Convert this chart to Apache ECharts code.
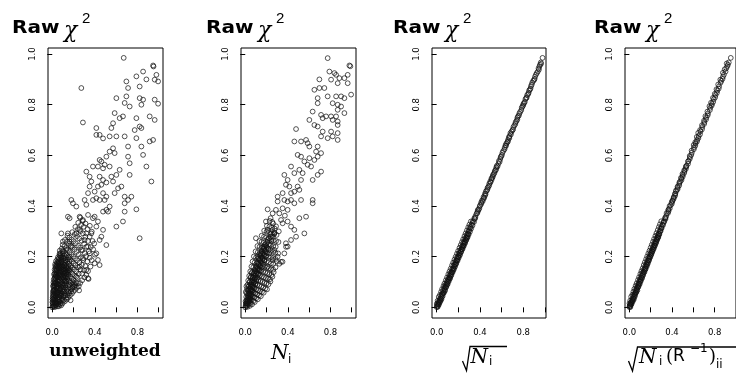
<!DOCTYPE html>
<html>
<head>
<meta charset="utf-8">
<script src="https://cdn.jsdelivr.net/npm/echarts@6/dist/echarts.min.js"></script>
<style>html,body{margin:0;padding:0;background:#fff;}#c{width:736px;height:373px;}</style>
</head>
<body>
<div id="c"></div>
<script>
// ---------------- data ----------------
var yTicks = [0, 0.2, 0.4, 0.6, 0.8, 1.0];
var xTicks = [0, 0.2, 0.4, 0.6, 0.8, 1.0];
var xLabels = [0, 0.4, 0.8];

// panel 1: raw chi2 vs unweighted
var unweightedPts = [
[0.671,0.985],[0.273,0.866],[0.288,0.730],[0.947,0.955],[0.951,0.951],[0.853,0.931],[0.790,0.912],[0.884,0.900],[0.978,0.918],[0.994,0.892],[0.962,0.899],[0.696,0.892],[0.712,0.866],[0.821,0.872],[0.602,0.826],[0.696,0.833],[0.821,0.826],[0.853,0.820],[0.962,0.820],[0.994,0.804],[0.680,0.807],[0.727,0.793],[0.837,0.800],[0.586,0.767],[0.633,0.747],[0.664,0.754],[0.571,0.727],[0.555,0.708],[0.790,0.747],[0.915,0.754],[0.962,0.740],[0.821,0.714],[0.837,0.708],[0.774,0.700],[0.414,0.708],[0.414,0.681],[0.445,0.681],[0.539,0.675],[0.602,0.675],[0.477,0.667],[0.680,0.675],[0.712,0.635],[0.790,0.668],[0.837,0.635],[0.915,0.655],[0.947,0.661],[0.853,0.602],[0.712,0.595],[0.727,0.569],[0.884,0.556],[0.727,0.523],[0.931,0.497],
[0.445,0.582],[0.461,0.576],[0.508,0.595],[0.492,0.563],[0.539,0.615],[0.571,0.628],[0.586,0.609],[0.382,0.556],[0.429,0.556],[0.477,0.549],[0.539,0.556],[0.633,0.543],[0.602,0.523],[0.320,0.536],[0.351,0.516],[0.367,0.497],[0.445,0.516],[0.477,0.503],[0.555,0.516],[0.571,0.497],[0.618,0.470],[0.586,0.451],[0.680,0.437],[0.649,0.477],[0.712,0.424],[0.743,0.437],[0.680,0.411],[0.790,0.387],[0.680,0.378],[0.664,0.339],[0.602,0.319],[0.821,0.273],
[0.304,0.424],[0.320,0.405],[0.382,0.424],[0.414,0.431],[0.445,0.424],[0.477,0.451],[0.508,0.437],[0.492,0.424],[0.539,0.398],[0.508,0.385],[0.477,0.378],[0.524,0.378],[0.179,0.424],[0.194,0.411],[0.226,0.398],[0.336,0.451],[0.351,0.477],[0.398,0.457],[0.429,0.477],[0.461,0.484],[0.508,0.493],
[0.147,0.358],[0.163,0.352],[0.257,0.358],[0.288,0.345],[0.336,0.365],[0.382,0.352],[0.398,0.358],[0.429,0.339],[0.414,0.319],[0.477,0.306],[0.508,0.246],[0.461,0.279],[0.445,0.266],[0.414,0.213],[0.429,0.187],[0.445,0.167],[0.398,0.174],[0.351,0.213],[0.336,0.240],[0.304,0.266],[0.257,0.306],[0.226,0.292],[0.320,0.292],[0.367,0.292],[0.273,0.227],[0.288,0.194],[0.320,0.148],[0.336,0.115],[0.257,0.161],[0.226,0.121],[0.241,0.095],[0.194,0.082],[0.147,0.292],[0.085,0.292],[0.100,0.260],[0.163,0.260],[0.179,0.240],[0.132,0.227],[0.069,0.213],[0.053,0.174],[0.163,0.200],
[0.000,0.000],[0.012,0.003],[0.025,0.001],[0.005,0.012],[0.018,0.014],[0.034,0.009],[0.046,0.004],[0.058,0.011],[0.028,0.022],[0.011,0.027],[0.041,0.025],[0.053,0.031],[0.067,0.022],[0.079,0.017],[0.022,0.038],[0.036,0.043],[0.049,0.047],[0.064,0.039],[0.076,0.045],[0.091,0.033],[0.103,0.041],[0.008,0.052],[0.019,0.061],[0.031,0.056],[0.044,0.066],[0.058,0.059],[0.071,0.068],[0.086,0.057],[0.098,0.064],[0.114,0.055],[0.127,0.047],[0.015,0.078],[0.027,0.084],[0.039,0.091],[0.052,0.079],[0.066,0.088],[0.081,0.081],[0.094,0.092],[0.109,0.078],[0.121,0.087],[0.138,0.069],[0.152,0.061],[0.024,0.103],[0.036,0.112],[0.048,0.106],[0.061,0.117],[0.074,0.104],[0.088,0.114],[0.101,0.108],[0.116,0.101],[0.131,0.094],[0.145,0.086],[0.163,0.079],[0.178,0.072],[0.031,0.128],[0.043,0.137],[0.057,0.131],[0.069,0.142],[0.083,0.129],[0.097,0.139],[0.112,0.126],[0.126,0.118],[0.141,0.112],[0.157,0.104],[0.172,0.097],[0.191,0.089],[0.208,0.081],[0.037,0.151],[0.051,0.158],[0.064,0.164],[0.078,0.153],[0.092,0.161],[0.106,0.149],[0.119,0.143],[0.134,0.136],[0.149,0.129],[0.166,0.122],[0.183,0.114],[0.199,0.107],[0.222,0.098],[0.046,0.177],[0.059,0.184],[0.073,0.176],[0.087,0.187],[0.101,0.172],[0.115,0.168],[0.129,0.161],[0.144,0.154],[0.159,0.147],[0.176,0.139],[0.192,0.131],[0.213,0.124],[0.236,0.117],[0.054,0.198],[0.068,0.206],[0.082,0.199],[0.096,0.211],[0.111,0.193],[0.124,0.186],[0.139,0.179],[0.154,0.171],[0.171,0.163],[0.187,0.157],[0.204,0.149],[0.226,0.142],[0.249,0.133],[0.071,0.224],[0.089,0.232],[0.105,0.221],[0.121,0.214],[0.136,0.206],[0.151,0.197],[0.167,0.189],[0.184,0.181],[0.201,0.173],[0.219,0.166],[0.241,0.158],[0.263,0.149],[0.098,0.247],[0.114,0.241],[0.131,0.234],[0.147,0.226],[0.162,0.218],[0.179,0.209],[0.196,0.201],[0.214,0.193],[0.233,0.186],[0.255,0.177],[0.278,0.168],[0.119,0.266],[0.138,0.259],[0.156,0.251],[0.173,0.243],[0.191,0.236],[0.209,0.228],[0.228,0.219],[0.248,0.209],[0.269,0.198],[0.291,0.187],[0.143,0.283],[0.161,0.276],[0.182,0.268],[0.201,0.261],[0.221,0.253],[0.243,0.244],[0.262,0.236],[0.284,0.226],[0.306,0.214],[0.188,0.297],[0.211,0.289],[0.233,0.281],[0.254,0.272],[0.276,0.263],[0.299,0.251],[0.321,0.239],[0.217,0.318],[0.241,0.309],[0.266,0.301],[0.288,0.292],[0.311,0.279],[0.244,0.334],[0.271,0.326],[0.296,0.318],
[0.002,0.021],[0.004,0.040],[0.010,0.066],[0.017,0.093],[0.026,0.121],[0.033,0.145],[0.041,0.171],[0.035,0.182],[0.029,0.163],[0.014,0.109],[0.007,0.084],[0.062,0.004],[0.084,0.008],[0.097,0.016],[0.118,0.024],[0.136,0.031],[0.149,0.038],[0.166,0.047],[0.184,0.054],[0.197,0.062],[0.214,0.069],[0.231,0.077],[0.249,0.084],[0.262,0.096],[0.281,0.107],[0.302,0.118],[0.319,0.128],[0.341,0.112],[0.172,0.028],[0.252,0.067],[0.217,0.087],[0.281,0.133],[0.298,0.146],[0.311,0.163],[0.329,0.181],[0.352,0.196],[0.371,0.186],[0.359,0.161],[0.336,0.143],[0.318,0.202],[0.343,0.221],[0.362,0.238],[0.384,0.229],[0.401,0.208],[0.378,0.262],[0.394,0.252],[0.336,0.262],[0.351,0.279],[0.371,0.299],[0.331,0.309],[0.353,0.322],[0.312,0.331],[0.286,0.341],[0.263,0.354],
[0.006,0.005],[0.015,0.008],[0.028,0.006],[0.039,0.014],[0.021,0.019],[0.009,0.033],[0.032,0.031],[0.045,0.036],[0.057,0.024],[0.070,0.032],[0.016,0.048],[0.029,0.045],[0.040,0.054],[0.055,0.051],[0.068,0.049],[0.083,0.046],[0.012,0.065],[0.025,0.071],[0.037,0.076],[0.049,0.073],[0.063,0.075],[0.077,0.071],[0.092,0.069],[0.105,0.061],[0.020,0.088],[0.032,0.097],[0.045,0.094],[0.058,0.101],[0.071,0.095],[0.085,0.099],[0.099,0.086],[0.113,0.091],[0.126,0.079],[0.028,0.116],[0.040,0.123],[0.054,0.119],[0.066,0.129],[0.079,0.118],[0.093,0.125],[0.107,0.118],[0.121,0.106],[0.135,0.101],[0.035,0.139],[0.048,0.146],[0.061,0.152],[0.075,0.139],[0.089,0.148],[0.103,0.135],[0.117,0.133],[0.131,0.123],[0.146,0.119],[0.043,0.163],[0.056,0.171],[0.070,0.167],[0.084,0.175],[0.098,0.161],[0.112,0.157],[0.126,0.149],[0.141,0.141],[0.155,0.136],[0.062,0.193],[0.076,0.190],[0.091,0.198],[0.107,0.183],[0.121,0.176],[0.136,0.167],[0.151,0.159],[0.168,0.151],[0.080,0.213],[0.095,0.222],[0.113,0.205],[0.128,0.198],[0.145,0.189],[0.161,0.181],[0.017,0.130],[0.022,0.149],[0.027,0.170],[0.003,0.031],[0.006,0.059],[0.107,0.028],[0.128,0.037],[0.143,0.049],[0.159,0.056],[0.176,0.063],[0.191,0.076],[0.205,0.094],[0.189,0.101],
[0.004,0.018],[0.013,0.036],[0.024,0.029],[0.035,0.020],[0.047,0.015],[0.019,0.055],[0.033,0.063],[0.047,0.058],[0.061,0.041],[0.074,0.057],[0.088,0.052],[0.013,0.087],[0.026,0.095],[0.040,0.083],[0.053,0.090],[0.067,0.108],[0.080,0.091],[0.095,0.078],[0.111,0.069],[0.022,0.134],[0.034,0.126],[0.046,0.118],[0.060,0.138],[0.073,0.126],[0.086,0.140],[0.099,0.121],[0.114,0.113],[0.128,0.105],[0.031,0.157],[0.042,0.149],[0.055,0.163],[0.068,0.156],[0.082,0.163],[0.096,0.150],[0.109,0.144],[0.123,0.137],[0.138,0.129],[0.048,0.189],[0.061,0.179],[0.075,0.203],[0.089,0.183],[0.103,0.195],[0.118,0.166],[0.133,0.156],[0.150,0.145],[0.008,0.046],[0.016,0.070],[0.011,0.098],[0.020,0.115],[0.071,0.011],[0.089,0.027],[0.110,0.047],[0.132,0.061],[0.148,0.073],[0.161,0.089]
];

// panel 2: raw chi2 vs N_i
var niPts = [
[0.774,0.984],[0.790,0.931],[0.837,0.925],[0.853,0.918],[0.978,0.955],[0.987,0.952],[0.962,0.918],[0.884,0.905],[0.931,0.905],[0.806,0.899],[0.696,0.900],[0.868,0.885],[0.962,0.885],[0.649,0.859],[0.696,0.866],[0.743,0.866],[0.680,0.826],[0.680,0.806],[0.774,0.833],[0.853,0.833],[0.900,0.833],[0.931,0.826],[0.994,0.840],[0.821,0.806],[0.868,0.800],[0.900,0.793],[0.868,0.780],[0.931,0.767],[0.633,0.773],[0.712,0.760],[0.727,0.747],[0.759,0.754],[0.806,0.754],[0.853,0.754],[0.821,0.740],[0.868,0.734],[0.868,0.720],[0.602,0.740],[0.649,0.720],[0.680,0.714],[0.727,0.694],[0.806,0.694],[0.821,0.675],[0.868,0.688],[0.868,0.661],[0.774,0.668],[0.712,0.675],
[0.477,0.704],[0.461,0.655],[0.524,0.655],[0.586,0.648],[0.602,0.635],[0.571,0.661],[0.680,0.635],[0.665,0.615],[0.680,0.595],[0.649,0.582],[0.602,0.589],[0.712,0.609],[0.492,0.602],[0.524,0.595],[0.555,0.576],[0.586,0.563],[0.618,0.556],[0.633,0.503],[0.712,0.536],[0.680,0.523],[0.430,0.556],[0.461,0.530],[0.508,0.543],[0.539,0.530],[0.524,0.503],[0.492,0.477],[0.508,0.464],[0.461,0.457],[0.367,0.523],[0.398,0.503],[0.382,0.484],[0.414,0.477],[0.430,0.451],[0.351,0.451],[0.304,0.437],[0.304,0.418],[0.367,0.424],[0.398,0.418],[0.430,0.424],[0.461,0.411],[0.524,0.424],[0.633,0.424],[0.633,0.411],[0.571,0.358],[0.508,0.352],[0.555,0.292],
[0.351,0.391],[0.398,0.385],[0.210,0.387],[0.257,0.371],[0.288,0.385],[0.320,0.371],[0.336,0.345],[0.398,0.339],[0.430,0.319],[0.461,0.306],[0.477,0.279],[0.430,0.266],[0.382,0.253],[0.336,0.180],[0.367,0.213],[0.398,0.240],[0.273,0.292],[0.241,0.279],[0.210,0.266],[0.194,0.339],[0.210,0.306],[0.100,0.273],[0.179,0.240],[0.226,0.213],[0.257,0.187],[0.273,0.227],[0.304,0.200],[0.179,0.187],[0.210,0.161],[0.147,0.213],[0.116,0.200],[0.350,0.180],[0.383,0.239],[0.320,0.172],[0.289,0.320],[0.315,0.300],[0.262,0.331],[0.238,0.352],[0.351,0.332],[0.372,0.362],
[0.000,0.000],[0.010,0.004],[0.021,0.002],[0.006,0.013],[0.017,0.016],[0.031,0.011],[0.043,0.006],[0.013,0.027],[0.026,0.024],[0.039,0.021],[0.052,0.017],[0.064,0.012],[0.009,0.041],[0.021,0.038],[0.034,0.036],[0.047,0.033],[0.061,0.029],[0.076,0.025],[0.089,0.021],[0.012,0.056],[0.026,0.053],[0.041,0.051],[0.056,0.047],[0.071,0.043],[0.087,0.039],[0.103,0.036],[0.118,0.032],[0.017,0.072],[0.032,0.069],[0.048,0.066],[0.063,0.062],[0.079,0.058],[0.095,0.055],[0.112,0.051],[0.129,0.047],[0.146,0.044],[0.021,0.089],[0.037,0.085],[0.054,0.082],[0.071,0.079],[0.088,0.075],[0.104,0.071],[0.121,0.068],[0.139,0.064],[0.157,0.061],[0.173,0.058],[0.028,0.106],[0.045,0.103],[0.062,0.099],[0.079,0.096],[0.097,0.092],[0.114,0.089],[0.132,0.085],[0.151,0.082],[0.169,0.078],[0.188,0.074],[0.204,0.071],[0.037,0.124],[0.054,0.121],[0.072,0.117],[0.089,0.114],[0.107,0.111],[0.125,0.107],[0.143,0.104],[0.162,0.101],[0.181,0.097],[0.199,0.094],[0.218,0.091],[0.236,0.102],[0.047,0.142],[0.065,0.139],[0.083,0.136],[0.101,0.132],[0.119,0.129],[0.138,0.126],[0.156,0.122],[0.175,0.119],[0.194,0.116],[0.213,0.113],[0.232,0.111],[0.255,0.121],[0.058,0.161],[0.076,0.158],[0.095,0.154],[0.113,0.151],[0.132,0.148],[0.151,0.144],[0.169,0.141],[0.188,0.138],[0.207,0.135],[0.226,0.131],[0.246,0.128],[0.267,0.139],[0.069,0.181],[0.088,0.177],[0.107,0.174],[0.126,0.171],[0.145,0.167],[0.164,0.164],[0.183,0.161],[0.202,0.157],[0.221,0.154],[0.241,0.151],[0.262,0.149],[0.284,0.158],[0.081,0.201],[0.101,0.197],[0.121,0.194],[0.141,0.191],[0.161,0.188],[0.181,0.184],[0.201,0.181],[0.221,0.178],[0.242,0.174],[0.263,0.171],[0.297,0.181],[0.097,0.221],[0.118,0.218],[0.138,0.215],[0.158,0.212],[0.179,0.208],[0.199,0.205],[0.219,0.201],[0.241,0.198],[0.262,0.195],[0.284,0.191],[0.114,0.242],[0.135,0.239],[0.156,0.236],[0.177,0.233],[0.198,0.229],[0.219,0.226],[0.241,0.223],[0.262,0.219],[0.283,0.216],[0.309,0.213],[0.133,0.262],[0.154,0.259],[0.176,0.256],[0.197,0.252],[0.219,0.249],[0.241,0.246],[0.263,0.242],[0.286,0.239],[0.154,0.283],[0.176,0.279],[0.198,0.276],[0.221,0.272],[0.243,0.269],[0.266,0.265],[0.289,0.262],[0.312,0.258],[0.178,0.303],[0.201,0.299],[0.224,0.296],[0.247,0.292],[0.271,0.289],[0.294,0.286],[0.203,0.322],[0.227,0.319],[0.251,0.315],[0.276,0.311],[0.229,0.341],[0.254,0.337],[0.003,0.024],[0.005,0.061],[0.011,0.083],
[0.005,0.007],[0.014,0.009],[0.024,0.014],[0.011,0.020],[0.030,0.028],[0.020,0.031],[0.042,0.027],[0.036,0.044],[0.025,0.047],[0.051,0.040],[0.046,0.057],[0.034,0.061],[0.060,0.053],[0.057,0.070],[0.043,0.076],[0.070,0.066],[0.066,0.084],[0.052,0.090],[0.082,0.079],[0.077,0.098],[0.061,0.105],[0.093,0.091],[0.087,0.112],[0.071,0.120],[0.104,0.104],[0.098,0.126],[0.081,0.134],[0.116,0.117],[0.110,0.140],[0.092,0.148],[0.128,0.131],[0.121,0.154],[0.104,0.163],[0.140,0.145],[0.133,0.168],[0.116,0.178],[0.152,0.158],[0.145,0.183],[0.128,0.193],[0.165,0.172],[0.157,0.197],[0.140,0.208],[0.177,0.186],[0.169,0.212],[0.153,0.223],[0.190,0.201],[0.182,0.227],[0.166,0.238],[0.203,0.215],[0.195,0.243],[0.217,0.231],[0.209,0.258],[0.231,0.247],[0.223,0.273],[0.245,0.262],[0.238,0.289],[0.259,0.279],[0.253,0.305],[0.274,0.296],
[0.008,0.016],[0.019,0.022],[0.028,0.037],[0.040,0.034],[0.037,0.052],[0.051,0.049],[0.048,0.072],[0.062,0.067],[0.058,0.091],[0.074,0.086],[0.069,0.108],[0.086,0.102],[0.081,0.126],[0.097,0.118],[0.092,0.143],[0.110,0.134],[0.105,0.158],[0.123,0.149],[0.118,0.172],[0.136,0.162],[0.131,0.188],[0.148,0.176],[0.144,0.203],[0.161,0.193],[0.157,0.218],[0.174,0.207],[0.171,0.232],[0.188,0.221],[0.185,0.248],[0.202,0.237],[0.024,0.066],[0.031,0.082],[0.040,0.099],[0.050,0.117],[0.059,0.135]
];

// panel 3: raw chi2 vs sqrt(N_i)
var sqrtNiPts = [
[0.000,0.001],[0.004,0.006],[0.008,0.003],[0.005,0.012],[0.012,0.010],[0.014,0.017],[0.018,0.013],[0.020,0.023],[0.025,0.019],[0.027,0.030],[0.032,0.027],[0.033,0.036],[0.039,0.034],[0.042,0.045],[0.046,0.039],[0.047,0.052],[0.054,0.050],[0.056,0.057],[0.061,0.056],[0.061,0.067],[0.068,0.062],[0.071,0.074],[0.075,0.070],[0.076,0.082],[0.083,0.079],[0.085,0.090],[0.090,0.085],[0.091,0.097],[0.098,0.092],[0.100,0.105],[0.105,0.100],[0.106,0.112],[0.112,0.109],[0.115,0.118],[0.120,0.115],[0.120,0.127],[0.127,0.122],[0.130,0.135],[0.135,0.130],[0.137,0.140],[0.142,0.139],[0.143,0.150],[0.149,0.145],[0.152,0.155],[0.157,0.152],[0.157,0.165],[0.164,0.160],[0.167,0.170],[0.172,0.169],[0.172,0.180],[0.179,0.175],[0.182,0.185],[0.186,0.184],[0.187,0.195],[0.194,0.190],[0.197,0.200],[0.201,0.199],[0.202,0.210],[0.209,0.205],[0.212,0.215],[0.216,0.214],[0.217,0.225],[0.224,0.220],[0.227,0.230],[0.231,0.229],[0.232,0.240],[0.239,0.235],[0.242,0.245],[0.247,0.242],[0.247,0.255],[0.254,0.250],[0.257,0.260],[0.262,0.257],[0.263,0.270],[0.269,0.265],[0.272,0.276],[0.277,0.272],[0.278,0.285],[0.285,0.280],[0.287,0.292],[0.292,0.289],[0.296,0.300],
[0.301,0.305],[0.308,0.312],[0.312,0.318],[0.324,0.327],[0.331,0.334],[0.336,0.341],[0.352,0.349],[0.348,0.352],[0.359,0.361],[0.375,0.372],[0.381,0.379],[0.379,0.384],[0.394,0.391],[0.402,0.403],[0.413,0.409],[0.411,0.414],[0.419,0.422],[0.431,0.428],[0.433,0.436],[0.446,0.441],[0.447,0.449],[0.455,0.458],[0.469,0.466],[0.470,0.472],[0.485,0.481],[0.486,0.488],[0.495,0.497],[0.507,0.503],[0.506,0.509],[0.519,0.516],[0.519,0.522],[0.534,0.531],[0.536,0.538],[0.549,0.546],[0.551,0.553],[0.556,0.559],[0.571,0.567],[0.575,0.578],[0.588,0.586],[0.591,0.593],[0.603,0.602],[0.608,0.611],[0.627,0.624],[0.629,0.631],[0.641,0.638],[0.644,0.647],[0.658,0.655],[0.659,0.661],[0.671,0.668],[0.674,0.676],[0.686,0.683],[0.692,0.694],[0.706,0.703],[0.709,0.712],[0.727,0.724],[0.729,0.731],[0.745,0.742],[0.746,0.749],[0.760,0.758],[0.764,0.766],[0.782,0.779],[0.786,0.788],[0.799,0.797],[0.801,0.803],[0.814,0.811],[0.820,0.822],[0.832,0.829],[0.836,0.838],[0.850,0.847],[0.854,0.856],[0.867,0.864],[0.871,0.873],[0.883,0.887],[0.892,0.894],[0.905,0.902],[0.909,0.911],[0.917,0.919],[0.934,0.931],[0.941,0.944],[0.950,0.952],[0.955,0.958],[0.962,0.967],[0.978,0.985],
[0.010,0.002],[0.002,0.015],[0.021,0.011],[0.009,0.026],[0.033,0.022],[0.019,0.041],[0.044,0.031],[0.030,0.049],[0.055,0.044],[0.041,0.061],[0.066,0.057],[0.050,0.072],[0.078,0.066],[0.063,0.084],[0.088,0.080],[0.072,0.094],[0.101,0.091],[0.085,0.107],[0.112,0.103],[0.096,0.118],[0.124,0.114],[0.108,0.131],[0.135,0.126],[0.119,0.142],[0.147,0.138],[0.130,0.153],[0.158,0.149],[0.142,0.166],[0.170,0.161],[0.153,0.177],[0.181,0.172],[0.165,0.189],[0.193,0.184],[0.176,0.200],[0.204,0.196],[0.188,0.212],[0.216,0.207],[0.199,0.223],[0.227,0.219],[0.211,0.235],[0.239,0.230],[0.222,0.246],[0.250,0.242],[0.234,0.258],[0.262,0.253],[0.245,0.269],[0.273,0.265],[0.257,0.281],[0.285,0.276],[0.268,0.292],[0.296,0.288],[0.280,0.304],[0.308,0.299],[0.292,0.316],[0.319,0.311],[0.303,0.327],[0.331,0.323],[0.316,0.339],[0.345,0.337],[0.357,0.354],[0.369,0.371],[0.388,0.386],[0.398,0.399],[0.425,0.419],[0.439,0.432],[0.452,0.447],[0.463,0.461],[0.478,0.476],[0.497,0.493],[0.513,0.511],[0.527,0.526],[0.545,0.541],[0.562,0.556],[0.582,0.575],[0.597,0.597],[0.616,0.618],[0.636,0.640],[0.652,0.651],[0.667,0.672],[0.681,0.688],[0.700,0.699],[0.718,0.718],[0.738,0.736],[0.752,0.754],[0.772,0.772],[0.792,0.793],[0.808,0.807],[0.827,0.826],[0.845,0.842],[0.861,0.860],[0.878,0.879],[0.900,0.898],[0.925,0.925],[0.945,0.939],[0.965,0.962]
];

// panel 4: raw chi2 vs sqrt(N_i (R^-1)_ii)
var sqrtNiRPts = [
[0.000,0.001],[0.003,0.006],[0.008,0.004],[0.006,0.012],[0.011,0.010],[0.013,0.018],[0.017,0.014],[0.020,0.023],[0.023,0.020],[0.026,0.030],[0.031,0.027],[0.032,0.037],[0.037,0.034],[0.040,0.045],[0.045,0.040],[0.046,0.052],[0.051,0.050],[0.054,0.058],[0.058,0.056],[0.059,0.067],[0.065,0.062],[0.068,0.074],[0.072,0.071],[0.073,0.082],[0.079,0.079],[0.082,0.090],[0.086,0.085],[0.087,0.097],[0.093,0.093],[0.096,0.105],[0.101,0.101],[0.101,0.112],[0.107,0.109],[0.110,0.119],[0.115,0.116],[0.115,0.127],[0.121,0.123],[0.124,0.135],[0.129,0.131],[0.131,0.141],[0.136,0.139],[0.137,0.150],[0.143,0.146],[0.146,0.156],[0.151,0.153],[0.151,0.165],[0.157,0.161],[0.160,0.171],[0.165,0.169],[0.166,0.180],[0.171,0.176],[0.174,0.186],[0.179,0.184],[0.180,0.195],[0.186,0.191],[0.189,0.201],[0.193,0.199],[0.194,0.210],[0.200,0.206],[0.203,0.216],[0.208,0.214],[0.208,0.225],[0.215,0.221],[0.218,0.231],[0.222,0.229],[0.223,0.240],[0.229,0.236],[0.232,0.246],[0.237,0.243],[0.237,0.255],[0.244,0.251],[0.247,0.261],[0.251,0.258],[0.252,0.270],[0.258,0.266],[0.261,0.277],[0.266,0.273],[0.266,0.285],[0.273,0.281],[0.276,0.292],[0.280,0.289],[0.285,0.300],
[0.291,0.305],[0.297,0.312],[0.301,0.318],[0.312,0.327],[0.319,0.334],[0.324,0.341],[0.339,0.349],[0.335,0.352],[0.346,0.361],[0.361,0.372],[0.367,0.379],[0.365,0.384],[0.379,0.391],[0.387,0.403],[0.398,0.409],[0.396,0.414],[0.404,0.422],[0.415,0.428],[0.417,0.436],[0.429,0.441],[0.431,0.449],[0.438,0.458],[0.452,0.466],[0.453,0.472],[0.467,0.481],[0.468,0.488],[0.477,0.497],[0.489,0.503],[0.487,0.509],[0.500,0.516],[0.501,0.522],[0.515,0.531],[0.516,0.538],[0.529,0.546],[0.531,0.553],[0.536,0.559],[0.550,0.567],[0.554,0.578],[0.566,0.586],[0.569,0.593],[0.581,0.602],[0.586,0.611],[0.604,0.624],[0.606,0.631],[0.618,0.638],[0.621,0.647],[0.634,0.655],[0.635,0.661],[0.647,0.668],[0.650,0.676],[0.662,0.683],[0.667,0.694],[0.681,0.703],[0.684,0.712],[0.701,0.724],[0.703,0.731],[0.719,0.742],[0.720,0.749],[0.734,0.758],[0.738,0.766],[0.755,0.779],[0.759,0.788],[0.772,0.797],[0.774,0.803],[0.786,0.811],[0.792,0.822],[0.804,0.829],[0.808,0.838],[0.821,0.847],[0.825,0.856],[0.838,0.864],[0.842,0.873],[0.855,0.887],[0.862,0.894],[0.874,0.902],[0.878,0.911],[0.887,0.919],[0.902,0.931],[0.909,0.944],[0.918,0.952],[0.924,0.958],[0.932,0.967],[0.951,0.985],
[0.009,0.001],[0.001,0.016],[0.020,0.012],[0.008,0.027],[0.031,0.023],[0.017,0.042],[0.042,0.032],[0.028,0.050],[0.053,0.045],[0.038,0.062],[0.063,0.058],[0.047,0.073],[0.075,0.067],[0.059,0.085],[0.085,0.081],[0.068,0.095],[0.097,0.092],[0.081,0.108],[0.107,0.104],[0.091,0.119],[0.119,0.115],[0.103,0.132],[0.129,0.127],[0.113,0.143],[0.141,0.139],[0.124,0.154],[0.151,0.150],[0.135,0.167],[0.163,0.162],[0.145,0.178],[0.173,0.173],[0.157,0.190],[0.184,0.185],[0.167,0.201],[0.195,0.197],[0.178,0.213],[0.206,0.208],[0.189,0.224],[0.216,0.220],[0.200,0.236],[0.228,0.231],[0.210,0.247],[0.238,0.243],[0.222,0.259],[0.249,0.254],[0.232,0.270],[0.259,0.266],[0.244,0.282],[0.271,0.277],[0.254,0.293],[0.281,0.289],[0.266,0.305],[0.292,0.300],[0.277,0.317],[0.302,0.312],[0.287,0.328],[0.314,0.324],[0.299,0.340],[0.327,0.338],[0.338,0.355],[0.349,0.372],[0.368,0.387],[0.377,0.400],[0.404,0.420],[0.416,0.433],[0.428,0.448],[0.438,0.462],[0.452,0.477],[0.470,0.494],[0.485,0.512],[0.498,0.527],[0.515,0.542],[0.531,0.557],[0.550,0.576],[0.566,0.598],[0.584,0.619],[0.603,0.641],[0.618,0.652],[0.632,0.673],[0.646,0.689],[0.663,0.700],[0.681,0.719],[0.700,0.737],[0.713,0.755],[0.732,0.773],[0.751,0.794],[0.766,0.808],[0.784,0.827],[0.801,0.843],[0.817,0.861],[0.833,0.880],[0.853,0.899],[0.877,0.926],[0.894,0.940],[0.913,0.963]
];

// ---------------- chart ----------------
var panels = [
  {pts: unweightedPts, grid: {left: 48, top: 48, width: 115, height: 270}, xr: [-0.04, 1.04]},
  {pts: niPts,         grid: {left: 241, top: 48, width: 115, height: 270}, xr: [-0.04, 1.04]},
  {pts: sqrtNiPts,     grid: {left: 432, top: 48, width: 114, height: 270}, xr: [-0.043, 1.01]},
  {pts: sqrtNiRPts,    grid: {left: 625, top: 48, width: 113, height: 270}, xr: [-0.041, 1.0]}
];
var yr = [-0.042, 1.024];
var fmt = function (v) { return v.toFixed(1); };
var tickFont = {fontSize: 8.5, fontFamily: 'DejaVu Sans', color: '#000'};

var grids = [], xAxes = [], yAxes = [], series = [];
panels.forEach(function (p, i) {
  grids.push(Object.assign({show: true, borderColor: '#000', borderWidth: 1, backgroundColor: 'transparent'}, p.grid));
  xAxes.push({
    type: 'value', gridIndex: i, min: p.xr[0], max: p.xr[1],
    axisLine: {show: false}, splitLine: {show: false},
    axisTick: {show: true, length: 5, customValues: xTicks, lineStyle: {color: '#000', width: 1}},
    axisLabel: Object.assign({customValues: xLabels, formatter: fmt, margin: 10}, tickFont)
  });
  yAxes.push({
    type: 'value', gridIndex: i, min: yr[0], max: yr[1],
    axisLine: {show: false}, splitLine: {show: false},
    axisTick: {show: true, length: 5, customValues: yTicks, lineStyle: {color: '#000', width: 1}},
    axisLabel: Object.assign({customValues: yTicks, formatter: fmt, rotate: 90, margin: 11}, tickFont)
  });
  series.push({
    type: 'scatter', xAxisIndex: i, yAxisIndex: i, data: p.pts,
    symbol: 'circle', symbolSize: 4.8, large: false,
    itemStyle: {color: 'rgba(0,0,0,0)', borderColor: '#111', borderWidth: 0.9},
    emphasis: {disabled: true}
  });
});

function txt(x, y, s, font, align, sx) {
  return {type: 'text', x: x, y: y, scaleX: sx || 1, silent: true,
    style: {text: s, font: font, fill: '#000', align: align || 'left', verticalAlign: 'middle'}};
}
var graphics = [];
var titleX = [12, 206, 393, 594];
titleX.forEach(function (x0) {
  graphics.push(txt(x0, 29, 'Raw', 'bold 17px "DejaVu Sans"', 'left', 1.18));
  graphics.push(txt(x0 + 52, 31, '\u03c7', 'italic 22px "DejaVu Serif"'));
  graphics.push(txt(x0 + 70, 19, '2', '15px "Liberation Sans"'));
});
// x-axis names
graphics.push(txt(105, 352, 'unweighted', 'bold 17px "DejaVu Serif"', 'center'));
graphics.push(txt(271, 354, 'N', 'italic 20px "DejaVu Serif"'));
graphics.push(txt(288, 360, 'i', '12px "DejaVu Sans"'));
// sqrt(N_i)
graphics.push({type: 'polyline', silent: true, shape: {points: [[462.5, 361], [466.5, 370.5], [470, 346.5], [507, 346.5]]}, style: {stroke: '#000', lineWidth: 1.3, fill: null}});
graphics.push(txt(470.5, 357.5, 'N', 'italic 20px "DejaVu Serif"'));
graphics.push(txt(489, 362, 'i', '12px "DejaVu Sans"'));
// sqrt(N_i (R^-1)_ii)
graphics.push({type: 'polyline', silent: true, shape: {points: [[628.5, 361], [632.5, 371], [637.5, 347], [745, 347]]}, style: {stroke: '#000', lineWidth: 1.3, fill: null}});
graphics.push(txt(639, 357.5, 'N', 'italic 20px "DejaVu Serif"'));
graphics.push(txt(659, 362, 'i', '12px "DejaVu Sans"'));
graphics.push(txt(666, 357, '(', '18px "DejaVu Serif"'));
graphics.push(txt(673, 357, 'R', '17px "DejaVu Sans"'));
graphics.push(txt(690, 349, '\u22121', '12px "DejaVu Sans"'));
graphics.push(txt(709, 357, ')', '18px "DejaVu Serif"'));
graphics.push(txt(716, 365, 'ii', '12px "DejaVu Sans"'));

var chart = echarts.init(document.getElementById('c'), null, {renderer: 'canvas'});
chart.setOption({
  animation: false,
  backgroundColor: '#fff',
  grid: grids, xAxis: xAxes, yAxis: yAxes, series: series,
  graphic: {elements: graphics}
});
</script>
</body>
</html>
